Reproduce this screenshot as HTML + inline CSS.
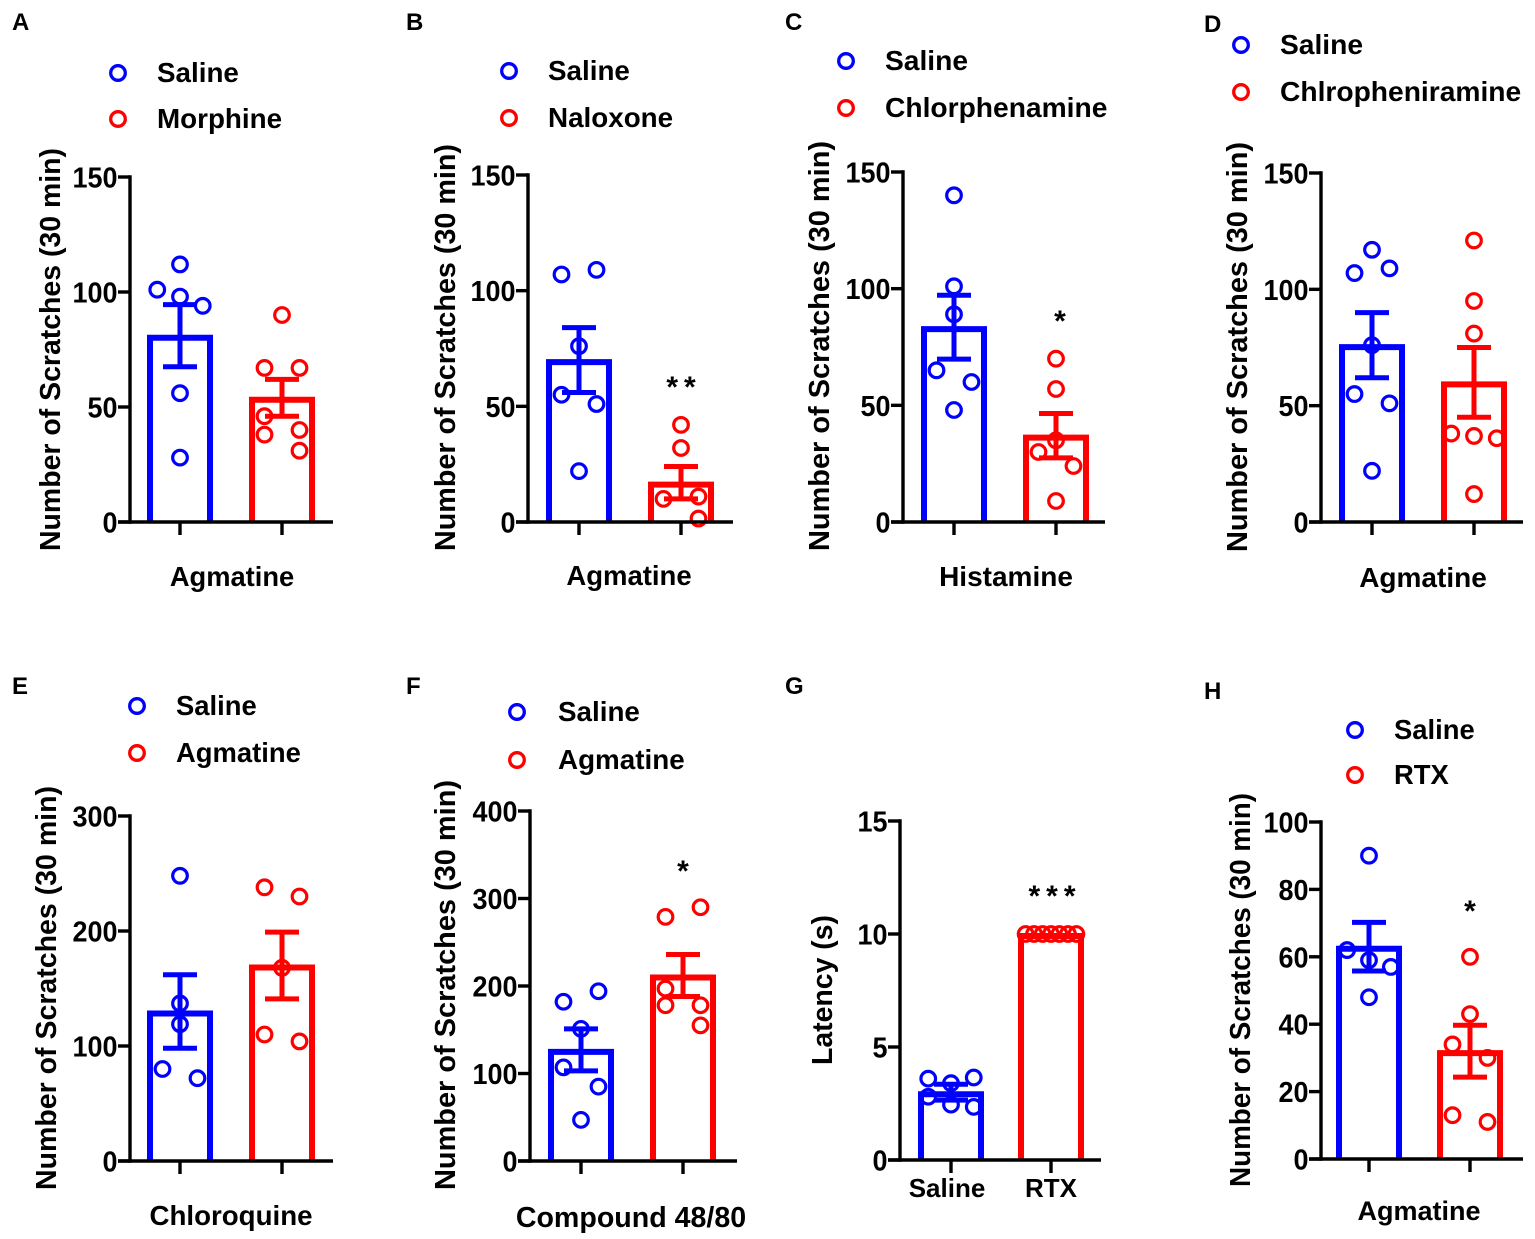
<!DOCTYPE html>
<html lang="en">
<head>
<meta charset="utf-8">
<title>Scratching behaviour panels</title>
<style>
html,body{margin:0;padding:0;background:#fff;}
svg{display:block;}
text{font-family:"Liberation Sans",sans-serif;font-weight:bold;fill:#000;}
</style>
</head>
<body>
<svg id="figure" width="1535" height="1239" viewBox="0 0 1535 1239" xmlns="http://www.w3.org/2000/svg"></svg>
<script>
// ---- data ----
const ticksA = [0, 50, 100, 150];
const seriesNamesA = ["Saline", "Morphine"];
const meansA = [81, 54];
const semsA = [13.5, 8];
const salineA = [112, 101, 98, 94, 56, 28];
const treatedA = [90, 67, 67, 46, 40, 38, 31];
const salineJitterA = [0, -1.3, 0, 1.3, 0, 0];
const treatedJitterA = [0, -1, 1, -1, 1, -1, 1];

const ticksB = [0, 50, 100, 150];
const seriesNamesB = ["Saline", "Naloxone"];
const meansB = [70, 17];
const semsB = [14, 7];
const salineB = [109, 107, 76, 55, 51, 22];
const treatedB = [42, 32, 11, 10, 1.5];
const salineJitterB = [1, -1, 0, -1, 1, 0];
const treatedJitterB = [0, 0, 1, -1, 1];

const ticksC = [0, 50, 100, 150];
const seriesNamesC = ["Saline", "Chlorphenamine"];
const meansC = [83.5, 37];
const semsC = [13.7, 9.5];
const salineC = [140, 101, 89, 65, 60, 48];
const treatedC = [70, 57, 35, 30, 24, 9];
const salineJitterC = [0, 0, 0, -1, 1, 0];
const treatedJitterC = [0, 0, 0, -1, 1, 0];

const ticksD = [0, 50, 100, 150];
const seriesNamesD = ["Saline", "Chlropheniramine"];
const meansD = [76, 60];
const semsD = [14, 15];
const salineD = [117, 109, 107, 76, 55, 51, 22];
const treatedD = [121, 95, 81, 38, 37, 36, 12];
const salineJitterD = [0, 1, -1, 0, -1, 1, 0];
const treatedJitterD = [0, 0, 0, -1.3, 0, 1.3, 0];

const ticksE = [0, 100, 200, 300];
const seriesNamesE = ["Saline", "Agmatine"];
const meansE = [130, 170];
const semsE = [32, 29];
const salineE = [248, 137, 119, 80, 72];
const treatedE = [238, 230, 168, 110, 104];
const salineJitterE = [0, 0, 0, -1, 1];
const treatedJitterE = [-1, 1, 0, -1, 1];

const ticksF = [0, 100, 200, 300, 400];
const seriesNamesF = ["Saline", "Agmatine"];
const meansF = [127, 212];
const semsF = [24, 24];
const salineF = [194, 182, 151, 107, 85, 47];
const treatedF = [290, 279, 197, 178, 178, 155];
const salineJitterF = [1, -1, 0, -1, 1, 0];
const treatedJitterF = [1, -1, -1, -1, 1, 1];

const ticksG = [0, 5, 10, 15];
const categoriesG = ["Saline", "RTX"];
const meansG = [3, 10];
const semsG = [0.35, 0];
const salineG = [3.6, 3.65, 3.4, 2.8, 2.45, 2.35];
const treatedG = [10, 10, 10, 10, 10, 10, 10];
const salineJitterG = [-1.3, 1.3, 0, -1.3, 0, 1.3];
const treatedJitterG = [-1.45, -0.97, -0.48, 0, 0.48, 0.97, 1.45];

const ticksH = [0, 20, 40, 60, 80, 100];
const seriesNamesH = ["Saline", "RTX"];
const meansH = [63, 32];
const semsH = [7.2, 7.7];
const salineH = [90, 62, 59, 57, 48];
const treatedH = [60, 43, 34, 30, 13, 11];
const salineJitterH = [0, -1.25, 0, 1.25, 0];
const treatedJitterH = [0, 0, -1, 1, -1, 1];

// ---- layout (pixels) ----
const panels = [
 {id:"a",letter:"A",lx:12,ly:30,ax:130,y0:522,yT:177,xEnd:333,c:[180,282],ticks:ticksA,means:meansA,sems:semsA,pts:[salineA,treatedA],jit:[salineJitterA,treatedJitterA],names:seriesNamesA,lgX:118,lgTx:157,lgY:[73,119],lgSize:27.8,xl:"Agmatine",xlX:232,xlY:586,xlSize:27.3,ylab:"Number of Scratches (30 min)",ylX:60,ylY:349.5,ylLen:403},
 {id:"b",letter:"B",lx:406,ly:30,ax:528,y0:522,yT:175,xEnd:733,c:[579,681],ticks:ticksB,means:meansB,sems:semsB,pts:[salineB,treatedB],jit:[salineJitterB,treatedJitterB],names:seriesNamesB,lgX:509,lgTx:548,lgY:[71,118],lgSize:27.8,xl:"Agmatine",xlX:629,xlY:585,xlSize:27.5,ylab:"Number of Scratches (30 min)",ylX:455,ylY:347.5,ylLen:407,star:"**",sx:681,sy:397},
 {id:"c",letter:"C",lx:785,ly:30,ax:903,y0:522,yT:172,xEnd:1105,c:[954,1056],ticks:ticksC,means:meansC,sems:semsC,pts:[salineC,treatedC],jit:[salineJitterC,treatedJitterC],names:seriesNamesC,lgX:846,lgTx:885,lgY:[61,108],lgSize:28.2,xl:"Histamine",xlX:1006,xlY:586,xlSize:28,ylab:"Number of Scratches (30 min)",ylX:829,ylY:346,ylLen:410,star:"*",sx:1060,sy:331},
 {id:"d",letter:"D",lx:1204,ly:32,ax:1321,y0:522,yT:173,xEnd:1523,c:[1372,1474],ticks:ticksD,means:meansD,sems:semsD,pts:[salineD,treatedD],jit:[salineJitterD,treatedJitterD],names:seriesNamesD,lgX:1241,lgTx:1280,lgY:[45,92],lgSize:28.2,xl:"Agmatine",xlX:1423,xlY:587,xlSize:28,ylab:"Number of Scratches (30 min)",ylX:1247,ylY:347,ylLen:410},
 {id:"e",letter:"E",lx:12,ly:694,ax:130,y0:1161,yT:816,xEnd:333,c:[180,282],ticks:ticksE,means:meansE,sems:semsE,pts:[salineE,treatedE],jit:[salineJitterE,treatedJitterE],names:seriesNamesE,lgX:137,lgTx:176,lgY:[706,753],lgSize:27.4,xl:"Chloroquine",xlX:231,xlY:1225,xlSize:27.7,ylab:"Number of Scratches (30 min)",ylX:56,ylY:988,ylLen:404},
 {id:"f",letter:"F",lx:406,ly:694,ax:530,y0:1161,yT:811,xEnd:737,c:[581,683],ticks:ticksF,means:meansF,sems:semsF,pts:[salineF,treatedF],jit:[salineJitterF,treatedJitterF],names:seriesNamesF,lgX:517,lgTx:558,lgY:[712,760],lgSize:27.8,xl:"Compound 48/80",xlX:631,xlY:1227,xlSize:28.6,ylab:"Number of Scratches (30 min)",ylX:455,ylY:985,ylLen:410,star:"*",sx:683,sy:881},
 {id:"g",letter:"G",lx:785,ly:694,ax:900,y0:1160,yT:821,xEnd:1101,c:[951,1051],ticks:ticksG,means:meansG,sems:semsG,pts:[salineG,treatedG],jit:[salineJitterG,treatedJitterG],cats:categoriesG,catX:[947,1051],catY:1197,ylab:"Latency (s)",ylX:832,ylY:990,ylLen:150,star:"***",sx:1052,sy:906},
 {id:"h",letter:"H",lx:1204,ly:699,ax:1321,y0:1159,yT:822,xEnd:1523,c:[1369,1470],ticks:ticksH,means:meansH,sems:semsH,pts:[salineH,treatedH],jit:[salineJitterH,treatedJitterH],names:seriesNamesH,lgX:1355,lgTx:1394,lgY:[730,775],lgSize:27.4,xl:"Agmatine",xlX:1419,xlY:1220,xlSize:27,ylab:"Number of Scratches (30 min)",ylX:1250,ylY:990,ylLen:394,star:"*",sx:1470,sy:921}
];
const colors = ["#0000ff", "#ff0000"];
const seriesKeys = ["saline", "treated"];
const jitterStep = 17.5;
const tickCharWidth = 15;
const barTopOffset = 2;
const svgNS = "http://www.w3.org/2000/svg";
const root = document.getElementById("figure");

function make(parent, tag, attrs, name, text) {
  const el = document.createElementNS(svgNS, tag);
  for (const k in attrs) el.setAttribute(k, attrs[k]);
  
  
  if (text !== undefined) el.textContent = text;
  parent.appendChild(el);
  return el;
}

function drawPanel(p) {
  const g = make(root, "g", {}, "panel-" + p.id);
  const maxTick = p.ticks[p.ticks.length - 1];
  const yScale = v => p.y0 - (v / maxTick) * (p.y0 - p.yT);

  make(g, "text", {x:p.lx, y:p.ly, "font-size":24}, "panel-label-" + p.id, p.letter);

  // legend
  if (p.names) {
    p.names.forEach((nm, i) => {
      make(g, "circle", {cx:p.lgX, cy:p.lgY[i], r:7.3, fill:"none", stroke:colors[i], "stroke-width":3.3}, "legend-marker-" + seriesKeys[i]);
      make(g, "text", {x:p.lgTx, y:p.lgY[i] + 9, "font-size":p.lgSize}, "legend-label-" + seriesKeys[i], nm);
    });
  }

  // bars, error bars, points
  p.means.forEach((m, i) => {
    const c = p.c[i];
    const top = yScale(m) + barTopOffset;
    make(g, "path", {d:`M${c - 30} ${p.y0}V${top}H${c + 30}V${p.y0}`, fill:"none", stroke:colors[i], "stroke-width":6}, "bar-" + seriesKeys[i]);
    const hi = yScale(m + p.sems[i]);
    const lo = yScale(m - p.sems[i]);
    if (p.sems[i] > 0) {
      make(g, "line", {x1:c, x2:c, y1:hi, y2:lo, stroke:colors[i], "stroke-width":5}, "error-stem-" + seriesKeys[i]);
      make(g, "line", {x1:c - 17, x2:c + 17, y1:hi, y2:hi, stroke:colors[i], "stroke-width":5}, "error-cap-upper-" + seriesKeys[i]);
      make(g, "line", {x1:c - 17, x2:c + 17, y1:lo, y2:lo, stroke:colors[i], "stroke-width":5}, "error-cap-lower-" + seriesKeys[i]);
    }
    p.pts[i].forEach((v, j) => {
      make(g, "circle", {cx:c + p.jit[i][j] * jitterStep, cy:yScale(v), r:7.3, fill:"none", stroke:colors[i], "stroke-width":3.2}, "point-" + seriesKeys[i]);
    });
  });

  // axes
  make(g, "line", {x1:p.ax, x2:p.ax, y1:p.yT - 1.7, y2:p.y0 + 1.7, stroke:"#000", "stroke-width":3.4}, "y-axis-line");
  make(g, "line", {x1:p.ax - 12, x2:p.xEnd, y1:p.y0, y2:p.y0, stroke:"#000", "stroke-width":3.4}, "x-axis-line");
  p.ticks.forEach(t => {
    const y = yScale(t);
    make(g, "line", {x1:p.ax - 12, x2:p.ax, y1:y, y2:y, stroke:"#000", "stroke-width":3.4}, "y-tick");
    make(g, "text", {x:p.ax - 12.5, y:y + 10.5, "font-size":29, "text-anchor":"end", textLength:String(t).length * tickCharWidth, lengthAdjust:"spacingAndGlyphs"}, "y-tick-label", t);
  });
  p.c.forEach((c, i) => {
    make(g, "line", {x1:c, x2:c, y1:p.y0, y2:p.y0 + 13, stroke:"#000", "stroke-width":3.4}, "x-tick-" + seriesKeys[i]);
  });

  // axis titles
  if (p.xl) make(g, "text", {x:p.xlX, y:p.xlY, "font-size":p.xlSize, "text-anchor":"middle"}, "x-axis-title", p.xl);
  if (p.cats) p.cats.forEach((nm, i) => {
    make(g, "text", {x:p.catX[i], y:p.catY, "font-size":26, "text-anchor":"middle"}, "x-category-label-" + seriesKeys[i], nm);
  });
  make(g, "text", {x:p.ylX, y:p.ylY, "font-size":28.5, "text-anchor":"middle", textLength:p.ylLen, lengthAdjust:"spacingAndGlyphs", transform:`rotate(-90 ${p.ylX} ${p.ylY})`}, "y-axis-title", p.ylab);

  // significance
  if (p.star) make(g, "text", {x:p.sx + 3, y:p.sy, "font-size":30, "font-weight":"normal", "text-anchor":"middle", "letter-spacing":"6"}, "significance-marker", p.star);
}

panels.forEach(drawPanel);
</script>
</body>
</html>
